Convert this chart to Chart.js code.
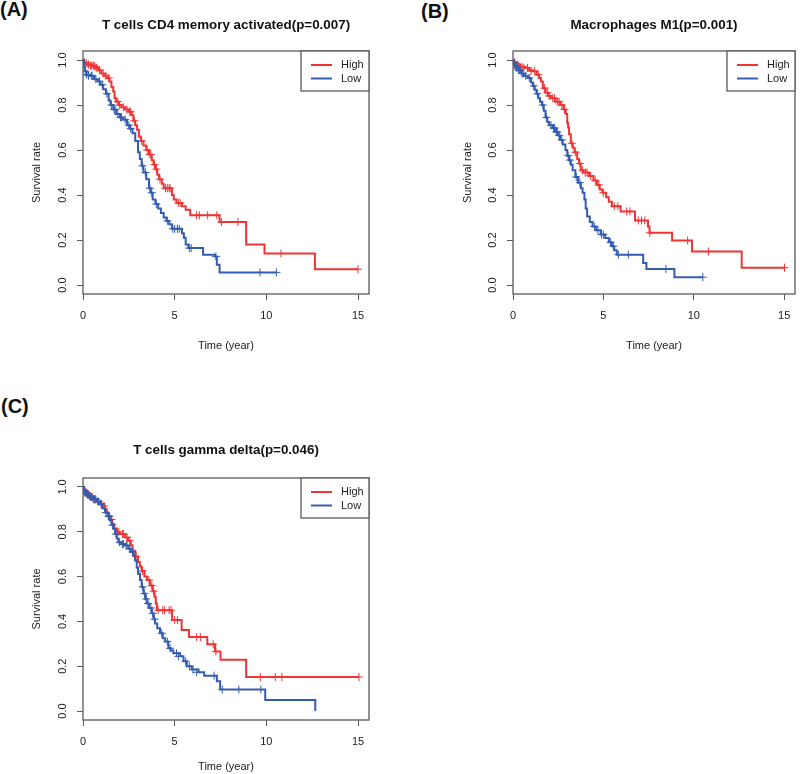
<!DOCTYPE html>
<html>
<head>
<meta charset="utf-8">
<script src="https://cdn.jsdelivr.net/npm/chart.js@4.4.1/dist/chart.umd.min.js"></script>
<style>
  body { margin: 0; background: #fff; width: 800px; height: 774px; position: relative; overflow: hidden;
         font-family: "Liberation Sans", Arial, sans-serif; }
  .panel { position: absolute; }
  .tag { position: absolute; font-weight: bold; font-size: 20px; color: #111; line-height: 23px; }
</style>
</head>
<body>
<div class="tag" style="left:0px;top:-2px">(A)</div>
<div class="tag" style="left:421px;top:0px">(B)</div>
<div class="tag" style="left:1px;top:395px">(C)</div>

<div class="panel" style="left:0;top:0"><canvas id="chartA" width="400" height="360"></canvas></div>
<div class="panel" style="left:400px;top:0"><canvas id="chartB" width="400" height="360"></canvas></div>
<div class="panel" style="left:0;top:390px"><canvas id="chartC" width="400" height="384"></canvas></div>

<script>
// tick labels and series names
const xTicks = [0, 5, 10, 15];
const yTicks = [0, 0.2, 0.4, 0.6, 0.8, 1.0];
const groupLabels = ['High', 'Low'];
const groupColors = ['rgb(240,52,52)', 'rgb(52,92,176)'];
const titles = [
  'T cells CD4 memory activated(p=0.007)',
  'Macrophages M1(p=0.001)',
  'T cells gamma delta(p=0.046)'
];

// (A) step curves: [time, survival]
const aHigh = [[0,1],[0.05,0.99],[0.15,0.985],[0.3,0.98],[0.5,0.975],[0.7,0.965],[0.85,0.955],[1.0,0.94],[1.15,0.93],
  [1.3,0.92],[1.45,0.905],[1.55,0.88],[1.65,0.86],[1.72,0.83],[1.8,0.815],[1.95,0.8],[2.1,0.79],[2.3,0.78],[2.5,0.77],
  [2.65,0.755],[2.75,0.73],[2.85,0.71],[2.95,0.69],[3.05,0.66],[3.15,0.64],[3.3,0.62],[3.45,0.6],[3.6,0.58],[3.75,0.555],
  [3.85,0.535],[3.95,0.515],[4.05,0.49],[4.15,0.47],[4.3,0.45],[4.4,0.43],[4.85,0.4],[4.95,0.38],[5.1,0.365],[5.4,0.35],
  [5.6,0.335],[5.85,0.31],[7.45,0.28],[8.9,0.18],[9.9,0.14],[12.65,0.07],[15.0,0.07]];
const aHighCens = [[0.1,0.99],[0.2,0.985],[0.3,0.98],[0.4,0.975],[0.45,0.975],[0.55,0.975],[0.6,0.975],[0.65,0.97],
  [0.75,0.965],[0.9,0.955],[1.1,0.94],[1.25,0.93],[1.4,0.92],[1.9,0.815],[2.0,0.8],[2.2,0.79],[2.4,0.78],[2.55,0.77],
  [2.6,0.77],[2.8,0.73],[3.2,0.64],[3.5,0.6],[3.65,0.58],[3.7,0.58],[3.9,0.535],[4.0,0.515],[4.2,0.47],[4.5,0.43],
  [4.6,0.43],[4.7,0.43],[4.75,0.43],[5.2,0.365],[5.3,0.365],[6.2,0.31],[6.35,0.31],[6.8,0.31],[7.3,0.31],[7.55,0.28],
  [8.45,0.28],[10.8,0.14],[15.0,0.07]];
const aLow = [[0,1],[0.05,0.97],[0.1,0.95],[0.2,0.935],[0.4,0.93],[0.6,0.915],[0.8,0.905],[0.95,0.89],[1.1,0.87],
  [1.25,0.85],[1.4,0.82],[1.5,0.8],[1.65,0.78],[1.8,0.76],[2.0,0.745],[2.2,0.735],[2.4,0.71],[2.55,0.695],[2.7,0.675],
  [2.85,0.64],[3.0,0.59],[3.1,0.56],[3.2,0.53],[3.3,0.5],[3.45,0.47],[3.6,0.43],[3.7,0.41],[3.8,0.38],[3.95,0.36],
  [4.1,0.34],[4.25,0.32],[4.4,0.3],[4.55,0.285],[4.7,0.27],[4.85,0.25],[5.4,0.23],[5.5,0.21],[5.6,0.18],[5.75,0.164],
  [6.55,0.135],[7.2,0.127],[7.3,0.09],[7.45,0.056],[10.55,0.056]];
const aLowCens = [[0.12,0.95],[0.2,0.935],[0.3,0.93],[0.45,0.93],[0.5,0.93],[0.7,0.915],[0.9,0.905],[1.05,0.89],
  [1.3,0.85],[1.55,0.8],[1.7,0.78],[1.75,0.78],[1.9,0.76],[2.05,0.745],[2.1,0.745],[2.3,0.735],[2.5,0.71],[2.6,0.695],
  [3.25,0.53],[3.4,0.5],[3.65,0.43],[3.75,0.41],[4.0,0.36],[4.6,0.285],[4.9,0.25],[5.0,0.25],[5.15,0.25],[5.25,0.25],
  [5.8,0.164],[5.9,0.164],[7.25,0.127],[9.65,0.056],[10.55,0.056]];

// (B)
const bHigh = [[0,1],[0.05,0.99],[0.2,0.98],[0.4,0.97],[0.7,0.965],[0.9,0.955],[1.1,0.95],[1.3,0.935],[1.45,0.92],
  [1.55,0.905],[1.65,0.875],[1.8,0.855],[1.95,0.84],[2.1,0.83],[2.35,0.815],[2.6,0.8],[2.8,0.78],[2.92,0.76],[3.0,0.72],
  [3.05,0.7],[3.1,0.67],[3.2,0.63],[3.3,0.61],[3.4,0.59],[3.55,0.56],[3.65,0.54],[3.75,0.51],[3.9,0.5],[4.2,0.485],
  [4.45,0.465],[4.65,0.445],[4.8,0.425],[4.95,0.41],[5.15,0.39],[5.3,0.37],[5.47,0.35],[5.95,0.327],[6.75,0.287],
  [7.47,0.26],[7.55,0.232],[8.8,0.198],[9.9,0.149],[12.65,0.077],[15.02,0.077]];
const bHighCens = [[0.1,0.99],[0.25,0.98],[0.35,0.97],[0.5,0.97],[0.6,0.965],[0.8,0.965],[1.0,0.95],[1.2,0.95],
  [1.4,0.935],[1.75,0.875],[1.9,0.855],[2.0,0.84],[2.2,0.83],[2.3,0.83],[2.45,0.815],[2.55,0.815],[2.7,0.8],[2.85,0.78],
  [3.25,0.63],[3.45,0.59],[3.7,0.54],[3.85,0.51],[4.0,0.5],[4.1,0.5],[4.3,0.485],[4.55,0.465],[4.75,0.445],[5.0,0.41],
  [5.6,0.35],[5.8,0.35],[6.29,0.327],[6.47,0.327],[6.93,0.287],[7.11,0.287],[7.29,0.287],[7.57,0.232],[9.66,0.198],
  [10.81,0.149],[15.02,0.077]];
const bLow = [[0,1],[0.05,0.985],[0.15,0.965],[0.27,0.955],[0.45,0.94],[0.6,0.93],[0.82,0.92],[1.0,0.9],[1.1,0.885],
  [1.2,0.868],[1.3,0.85],[1.4,0.83],[1.5,0.815],[1.6,0.8],[1.7,0.775],[1.8,0.745],[1.9,0.725],[2.0,0.71],[2.2,0.698],
  [2.35,0.68],[2.5,0.665],[2.6,0.645],[2.75,0.625],[2.9,0.6],[3.0,0.575],[3.1,0.555],[3.2,0.535],[3.3,0.51],[3.45,0.48],
  [3.6,0.455],[3.75,0.43],[3.85,0.41],[3.95,0.38],[4.02,0.34],[4.1,0.305],[4.25,0.28],[4.4,0.26],[4.6,0.243],[4.85,0.224],
  [5.1,0.209],[5.3,0.19],[5.47,0.172],[5.6,0.155],[5.74,0.135],[7.2,0.098],[7.38,0.071],[8.93,0.035],[10.5,0.035]];
const bLowCens = [[0.08,0.985],[0.12,0.975],[0.2,0.965],[0.3,0.955],[0.35,0.955],[0.4,0.955],[0.5,0.94],[0.55,0.94],
  [0.7,0.93],[0.9,0.92],[1.15,0.885],[1.35,0.85],[1.65,0.8],[1.85,0.745],[2.1,0.71],[2.25,0.698],[2.3,0.698],[2.4,0.68],
  [2.45,0.68],[2.55,0.665],[2.7,0.645],[3.05,0.575],[3.15,0.555],[3.5,0.48],[3.7,0.455],[4.5,0.26],[4.7,0.243],
  [4.9,0.224],[5.0,0.224],[5.4,0.19],[5.55,0.172],[5.83,0.135],[6.38,0.135],[8.46,0.071],[10.5,0.035]];

// (C)
const cHigh = [[0,1],[0.05,0.985],[0.15,0.975],[0.3,0.96],[0.5,0.945],[0.75,0.935],[0.95,0.925],[1.1,0.915],[1.2,0.9],
  [1.3,0.885],[1.4,0.87],[1.5,0.855],[1.6,0.835],[1.7,0.815],[1.85,0.8],[2.0,0.79],[2.3,0.775],[2.45,0.76],[2.6,0.74],
  [2.7,0.715],[2.85,0.69],[3.0,0.665],[3.1,0.645],[3.2,0.625],[3.35,0.6],[3.5,0.585],[3.65,0.56],[3.8,0.535],[3.9,0.51],
  [3.97,0.48],[4.03,0.45],[4.86,0.406],[5.38,0.362],[5.78,0.33],[6.78,0.298],[7.2,0.266],[7.5,0.229],[8.9,0.152],
  [15.05,0.152]];
const cHighCens = [[0.1,0.985],[0.2,0.975],[0.35,0.96],[0.4,0.96],[0.55,0.945],[0.65,0.945],[0.8,0.935],[1.0,0.925],
  [1.15,0.915],[1.45,0.87],[1.55,0.855],[1.95,0.8],[2.15,0.79],[2.2,0.79],[2.4,0.775],[2.55,0.76],[2.9,0.69],[3.25,0.625],
  [3.6,0.585],[3.75,0.56],[3.85,0.535],[4.1,0.45],[4.35,0.45],[4.45,0.45],[4.7,0.45],[4.8,0.45],[5.0,0.406],[5.15,0.406],
  [6.2,0.33],[6.4,0.33],[7.1,0.298],[7.25,0.266],[9.67,0.152],[10.49,0.152],[10.85,0.152],[15.05,0.152]];
const cLow = [[0,1],[0.05,0.985],[0.1,0.975],[0.2,0.965],[0.35,0.955],[0.56,0.945],[0.75,0.935],[0.93,0.923],[1.05,0.905],
  [1.2,0.886],[1.35,0.868],[1.47,0.85],[1.55,0.83],[1.66,0.812],[1.75,0.79],[1.85,0.77],[1.93,0.753],[2.1,0.745],[2.3,0.739],
  [2.48,0.724],[2.6,0.71],[2.75,0.695],[2.84,0.672],[2.93,0.64],[3.0,0.613],[3.11,0.585],[3.2,0.554],[3.3,0.524],[3.4,0.5],
  [3.48,0.48],[3.6,0.46],[3.75,0.436],[3.85,0.41],[3.93,0.391],[4.05,0.37],[4.2,0.347],[4.35,0.325],[4.48,0.31],[4.66,0.28],
  [4.8,0.27],[4.93,0.258],[5.3,0.244],[5.48,0.222],[5.66,0.2],[5.93,0.185],[6.3,0.173],[6.61,0.158],[7.3,0.133],[7.48,0.096],
  [9.94,0.049],[12.67,0]];
const cLowCens = [[0.05,0.985],[0.1,0.975],[0.15,0.975],[0.25,0.965],[0.3,0.965],[0.4,0.955],[0.45,0.955],[0.5,0.955],
  [0.6,0.945],[0.65,0.945],[0.7,0.945],[0.85,0.935],[1.0,0.923],[1.25,0.886],[1.4,0.868],[1.6,0.83],[1.8,0.79],[2.0,0.753],
  [2.15,0.745],[2.2,0.745],[2.35,0.739],[2.4,0.739],[2.55,0.724],[2.7,0.71],[3.25,0.554],[3.35,0.524],[3.45,0.5],[3.55,0.48],
  [3.7,0.46],[3.8,0.436],[3.9,0.41],[4.3,0.347],[4.6,0.31],[4.75,0.28],[5.1,0.258],[5.2,0.244],[5.6,0.222],[5.8,0.2],
  [6.0,0.185],[6.2,0.173],[7.15,0.158],[7.6,0.096],[8.5,0.096],[9.7,0.096]];

const FONT = '"Liberation Sans", Arial, sans-serif';
const toPts = arr => arr.map(p => ({ x: p[0], y: p[1] }));

// R-style plot box + legend in the top right corner
const boxAndLegend = {
  id: 'boxAndLegend',
  afterDraw(chart) {
    const { ctx, chartArea: ca } = chart;
    ctx.save();
    ctx.strokeStyle = '#5a5a5a';
    ctx.lineWidth = 1.3;
    ctx.strokeRect(ca.left, ca.top, ca.right - ca.left, ca.bottom - ca.top);

    const lw = 68, lh = 40;
    const lx = ca.right - lw, ly = ca.top;
    ctx.fillStyle = '#fff';
    ctx.fillRect(lx, ly, lw, lh);
    ctx.strokeRect(lx, ly, lw, lh);
    ctx.font = '11px ' + FONT;
    ctx.textBaseline = 'middle';
    groupLabels.forEach((lab, i) => {
      const y = ly + 14 + i * 13.5;
      ctx.strokeStyle = groupColors[i];
      ctx.lineWidth = 2;
      ctx.beginPath();
      ctx.moveTo(lx + 10, y);
      ctx.lineTo(lx + 31, y);
      ctx.stroke();
      ctx.fillStyle = '#222';
      ctx.fillText(lab, lx + 40, y);
    });
    ctx.restore();
  }
};

function makePanel(id, p) {
  const lineH = 13.4 * 1.2;
  const padTop = p.titleY - lineH / 2;
  new Chart(document.getElementById(id), {
    type: 'line',
    data: {
      datasets: [
        { label: 'Low', data: toPts(p.low), stepped: true, borderColor: groupColors[1], borderWidth: 2,
          pointRadius: 0, fill: false },
        { type: 'scatter', label: 'Low censored', data: toPts(p.lowCens), pointStyle: 'cross', pointRadius: 4,
          borderColor: groupColors[1], borderWidth: 1, showLine: false },
        { label: 'High', data: toPts(p.high), stepped: true, borderColor: groupColors[0], borderWidth: 2,
          pointRadius: 0, fill: false },
        { type: 'scatter', label: 'High censored', data: toPts(p.highCens), pointStyle: 'cross', pointRadius: 4,
          borderColor: groupColors[0], borderWidth: 1, showLine: false }
      ]
    },
    options: {
      responsive: false,
      animation: false,
      layout: { padding: { left: 0, top: 0, bottom: 0, right: p.w - p.area.r } },
      plugins: {
        legend: { display: false },
        tooltip: { enabled: false },
        title: {
          display: true, text: p.title, fullSize: false, color: '#111',
          font: { family: FONT, size: 13.4, weight: 'bold' },
          padding: { top: padTop, bottom: p.area.t - padTop - lineH }
        }
      },
      scales: {
        x: {
          type: 'linear', min: 0, max: 15.6,
          afterBuildTicks: s => { s.ticks = xTicks.map(v => ({ value: v })); },
          afterFit: s => { s.height = p.h - p.area.b; },
          grid: { drawOnChartArea: false, drawTicks: true, tickLength: 6, color: '#5a5a5a' },
          border: { display: false },
          ticks: { color: '#222', font: { family: FONT, size: 11 }, padding: 9, maxRotation: 0, autoSkip: false },
          title: { display: true, text: 'Time (year)', color: '#222', font: { family: FONT, size: 11 },
                   padding: { top: 0, bottom: p.h - p.xTitleY - 6.6 } }
        },
        y: {
          type: 'linear', min: -0.04, max: 1.04,
          afterBuildTicks: s => { s.ticks = yTicks.map(v => ({ value: v })); },
          afterFit: s => { s.width = p.area.l; },
          grid: { drawOnChartArea: false, drawTicks: true, tickLength: 6, color: '#5a5a5a' },
          border: { display: false },
          ticks: { color: '#222', font: { family: FONT, size: 11 }, padding: 6, minRotation: 90, maxRotation: 90,
                   crossAlign: 'center', autoSkip: false, callback: v => v.toFixed(1) },
          title: { display: true, text: 'Survival rate', color: '#222', font: { family: FONT, size: 11 },
                   padding: { top: p.yTitleX - 6.6, bottom: 0 } }
        }
      }
    },
    plugins: [boxAndLegend]
  });
}

makePanel('chartA', { w: 400, h: 360, area: { l: 83, t: 51, r: 369, b: 294 }, titleY: 25, xTitleY: 345.5, yTitleX: 37,
  title: titles[0], high: aHigh, highCens: aHighCens, low: aLow, lowCens: aLowCens });
makePanel('chartB', { w: 400, h: 360, area: { l: 113, t: 51, r: 399, b: 294 }, titleY: 25, xTitleY: 345.5, yTitleX: 68,
  title: titles[1], high: bHigh, highCens: bHighCens, low: bLow, lowCens: bLowCens });
makePanel('chartC', { w: 400, h: 384, area: { l: 83, t: 88, r: 369, b: 330 }, titleY: 60, xTitleY: 377, yTitleX: 37,
  title: titles[2], high: cHigh, highCens: cHighCens, low: cLow, lowCens: cLowCens });
</script>
</body>
</html>
